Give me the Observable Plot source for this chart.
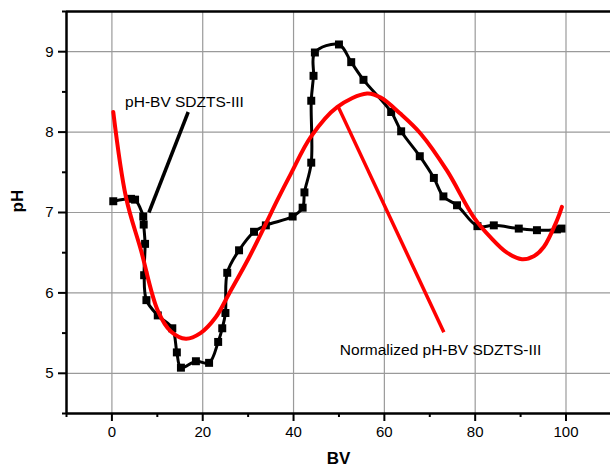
<!DOCTYPE html>
<html><head><meta charset="utf-8">
<script src="https://cdn.jsdelivr.net/npm/d3@7"></script>
<script src="https://cdn.jsdelivr.net/npm/@observablehq/plot@0.6"></script>
<style>body{margin:0;background:#fff}</style>
</head><body><div id="chart"></div>
<script>
// Measured pH vs BV (black squares)
const bv = [0.3, 4.2, 5.1, 6.9, 7.0, 7.3, 7.1, 7.6, 10.1, 13.3, 14.3, 15.2, 18.5, 21.4, 23.4, 24.3, 25.0, 25.4, 28.0, 31.3, 33.9, 39.8, 42.0, 42.4, 43.9, 43.9, 44.4, 44.7, 50.0, 52.7, 55.4, 61.5, 63.7, 67.8, 70.9, 73.0, 76.0, 80.5, 84.1, 89.6, 93.6, 98.0, 99.0];
const ph = [7.14, 7.17, 7.16, 6.95, 6.85, 6.61, 6.22, 5.91, 5.72, 5.56, 5.26, 5.07, 5.15, 5.13, 5.39, 5.56, 5.75, 6.25, 6.53, 6.76, 6.84, 6.95, 7.06, 7.25, 7.62, 8.39, 8.70, 8.99, 9.09, 8.87, 8.65, 8.25, 8.01, 7.70, 7.43, 7.20, 7.09, 6.83, 6.84, 6.80, 6.78, 6.79, 6.80];
// Normalized curve (red)
const normBv = [0.3, 3.1, 6.4, 10.1, 13.0, 16.3, 19.5, 22.9, 25.8, 30.2, 33.9, 36.4, 39.4, 43.8, 49.6, 56.2, 59.2, 63.5, 68.0, 73.8, 79.7, 83.4, 87.0, 90.3, 93.0, 95.1, 98.0, 99.1];
const normPh = [8.25, 7.19, 6.53, 5.78, 5.52, 5.43, 5.50, 5.70, 5.99, 6.44, 6.86, 7.15, 7.48, 7.94, 8.31, 8.48, 8.43, 8.23, 7.98, 7.52, 6.94, 6.69, 6.50, 6.42, 6.46, 6.57, 6.90, 7.07];
// Ticks
const xTicks = [0, 20, 40, 60, 80, 100];
const xMinor = [-10, 10, 30, 50, 70, 90, 110];
const yTicks = [5, 6, 7, 8, 9];
const yMinor = [4.5, 5.5, 6.5, 7.5, 8.5, 9.5];
// Annotations
const labels = ["pH-BV SDZTS-III", "Normalized pH-BV SDZTS-III"];
const labelX = [2.9, 50.2];
const labelY = [8.37, 5.29];
const pointerColors = ["black", "#ff0000"];
const pointerX1 = [8.15, 49.8];
const pointerY1 = [7.0, 8.32];
const pointerX2 = [16.8, 73.1];
const pointerY2 = [8.25, 5.51];

const measured = bv.map((x, i) => ({x, y: ph[i]}));
const norm = normBv.map((x, i) => ({x, y: normPh[i]}));
const ann = labels.map((t, i) => ({t, x: labelX[i], y: labelY[i]}));
const ptr = pointerColors.map((c, i) => ({c, x1: pointerX1[i], y1: pointerY1[i], x2: pointerX2[i], y2: pointerY2[i]}));

const plot = Plot.plot({
  width: 610, height: 471,
  marginTop: 11, marginBottom: 58, marginLeft: 66, marginRight: 0,
  x: {domain: [-10, 109.8]},
  y: {domain: [4.5, 9.5]},
  style: {fontFamily: "'Liberation Sans', Arial, sans-serif", fontSize: "15px", color: "#000", background: "#fff", overflow: "visible"},
  marks: [
    Plot.gridX(xTicks, {stroke: "#9a9a9a", strokeOpacity: 1, strokeWidth: 1.2}),
    Plot.gridY(yTicks, {stroke: "#9a9a9a", strokeOpacity: 1, strokeWidth: 1.2}),
    Plot.axisX(xTicks, {tickSize: 8, tickPadding: 5, strokeWidth: 2, label: null, fontSize: 15, tickFormat: d => String(d)}),
    Plot.axisX(xMinor, {tickSize: 4, strokeWidth: 2, text: null, label: null}),
    Plot.axisY(yTicks, {tickSize: 8, tickPadding: 5, strokeWidth: 2, label: null, fontSize: 15, tickFormat: d => String(d)}),
    Plot.axisY(yMinor, {tickSize: 4, strokeWidth: 2, text: null, label: null}),
    Plot.ruleX([-10], {strokeWidth: 2.5}),
    Plot.ruleY([4.5], {strokeWidth: 2.5}),
    Plot.ruleY([9.5], {strokeWidth: 2.5}),
    Plot.line(measured, {x: "x", y: "y", curve: "catmull-rom", stroke: "black", strokeWidth: 3}),
    Plot.dot(measured, {x: "x", y: "y", symbol: "square", r: 4.5, fill: "black", stroke: "none"}),
    Plot.line(norm, {x: "x", y: "y", curve: "catmull-rom", stroke: "#ff0000", strokeWidth: 4}),
    Plot.link(ptr, {x1: "x1", y1: "y1", x2: "x2", y2: "y2", stroke: "c", strokeWidth: 3.5}),
    Plot.text(ann, {x: "x", y: "y", text: "t", textAnchor: "start", fontSize: 15.5, fill: "black"}),
    Plot.text(["BV"], {frameAnchor: "bottom", dy: 50, fontWeight: "bold", fontSize: 17}),
    Plot.text(["pH"], {frameAnchor: "left", dx: -49, rotate: -90, fontWeight: "bold", fontSize: 17})
  ]
});
document.getElementById("chart").append(plot);
</script>
</body></html>
